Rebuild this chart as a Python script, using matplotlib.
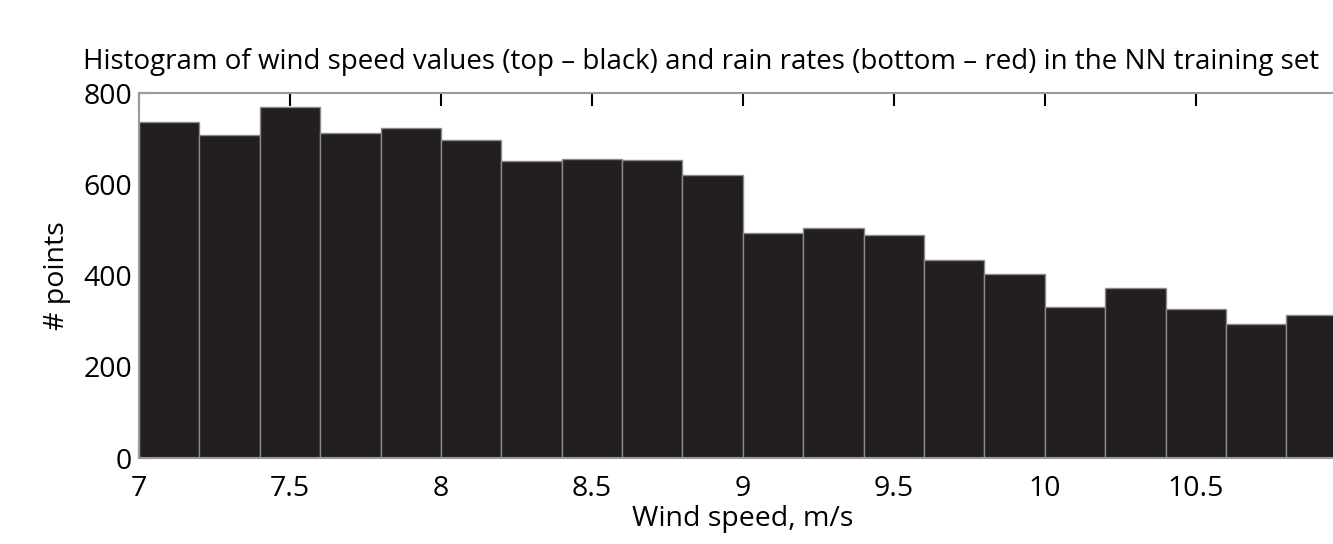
import matplotlib

matplotlib.use("Agg")

import matplotlib.pyplot as plt

# bin left edges (m/s) and counts
bin_edges = [7.0, 7.2, 7.4, 7.6, 7.8, 8.0, 8.2, 8.4, 8.6, 8.8,
             9.0, 9.2, 9.4, 9.6, 9.8, 10.0, 10.2, 10.4, 10.6, 10.8]
counts = [736, 708, 770, 713, 723, 697, 651, 656, 653, 620,
          493, 504, 489, 434, 403, 331, 373, 327, 294, 314]
bin_width = 0.2
x_ticks = [7, 7.5, 8, 8.5, 9, 9.5, 10, 10.5]
x_tick_labels = ["7", "7.5", "8", "8.5", "9", "9.5", "10", "10.5"]
y_ticks = [0, 200, 400, 600, 800]

plt.rcParams["font.family"] = ["Open Sans", "DejaVu Sans"]

fig = plt.figure(figsize=(13.33, 5.44), dpi=100)
ax = fig.add_axes([0.1043, 0.158, 0.906, 0.671])

ax.bar(bin_edges, counts, width=bin_width, align="edge",
       color="#231f20", edgecolor="#8a8a8a", linewidth=1.0, zorder=2)

ax.set_xlim(7, 11)
ax.set_ylim(0, 800)
ax.set_xticks(x_ticks)
ax.set_xticklabels(x_tick_labels)
ax.set_yticks(y_ticks)
ax.tick_params(direction="in", length=9, width=1.5, color="black",
               top=True, right=False, labelsize=20.5)
ax.tick_params(axis="x", pad=12)
ax.tick_params(axis="y", pad=5)
for side in ["left", "top", "bottom", "right"]:
    ax.spines[side].set_color("#9a9a9a")
    ax.spines[side].set_linewidth(1.5)

ax.set_xlabel("Wind speed, m/s", fontsize=20.5, labelpad=2)
ax.set_ylabel("# points", fontsize=20.5, labelpad=9)

fig.text(0.526, 0.886, "Histogram of wind speed values (top \u2013 black) and rain rates (bottom \u2013 red) in the NN training set",
         ha="center", va="center", fontsize=20)

fig.savefig("out.png", dpi=100)
plt.close(fig)
